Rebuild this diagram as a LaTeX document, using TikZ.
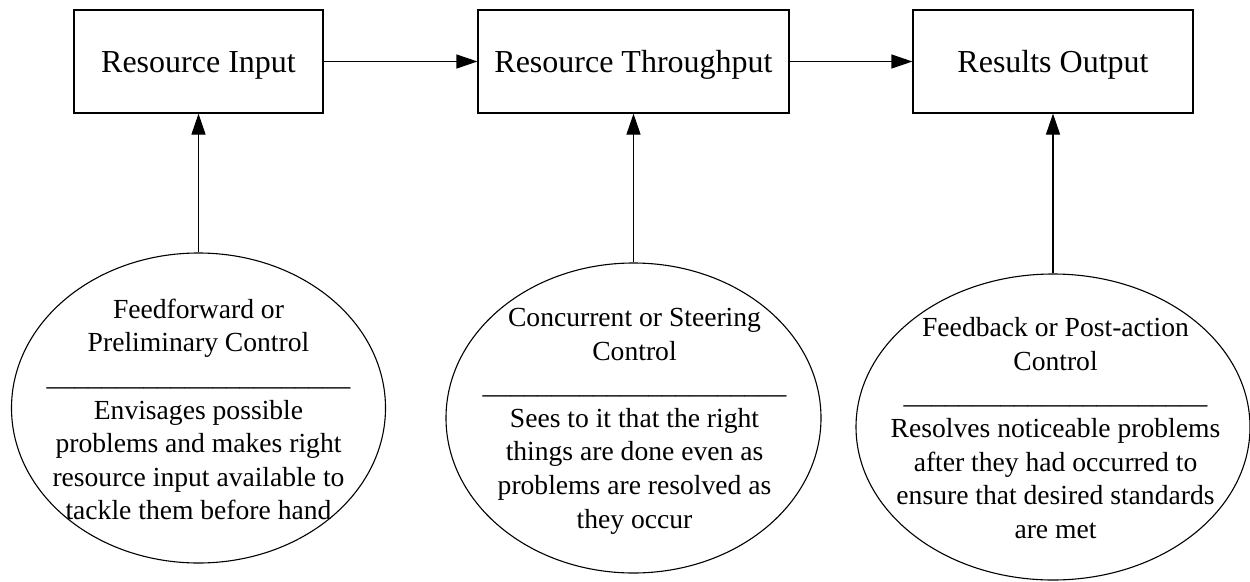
\documentclass[tikz,border=0pt]{standalone}
\usepackage{fontspec}
\setmainfont{Liberation Serif}
\usetikzlibrary{arrows.meta,shapes.geometric}
\begin{document}
\begin{tikzpicture}[x=1pt,y=-1pt,
  box/.style={draw,line width=1.2pt,inner sep=0pt,minimum height=103pt,
    font=\fontsize{32}{38}\selectfont,text height=21.2pt,text depth=0pt},
  ell/.style={draw,ellipse,line width=1.1pt,inner sep=0pt},
  etxt/.style={align=center,inner sep=0pt,font=\fontsize{27.6}{33.6}\selectfont},
  arr/.style={line width=1.2pt,-{Triangle[length=21pt,width=14pt]}}]
\useasboundingbox (0,0) rectangle (1250,581);
% boxes
\node[box,minimum width=249pt] (b1) at (198.5,61.5) {Resource Input};
\node[box,minimum width=311pt] (b2) at (633.5,61.5) {Resource Throughput};
\node[box,minimum width=280pt] (b3) at (1053,61.5) {Results Output};
% ellipses
\node[ell,minimum width=374pt,minimum height=310pt] (e1) at (198.5,408) {};
\node[ell,minimum width=375pt,minimum height=310pt] (e2) at (633.5,418) {};
\node[ell,minimum width=394pt,minimum height=306pt] (e3) at (1053,427) {};
% ellipse texts
\node[etxt] (t1) at (198.5,409.6) {Feedforward or\\Preliminary Control\\\_\_\_\_\_\_\_\_\_\_\_\_\_\_\_\_\_\_\_\_\_\_\\Envisages possible\\problems and makes right\\resource input available to\\tackle them before hand};
\node[etxt] (t2) at (634.5,421.2) {Concurrent or Steering\\Control\\\_\_\_\_\_\_\_\_\_\_\_\_\_\_\_\_\_\_\_\_\_\_\\Sees to it that the right\\things are done even as\\problems are resolved as\\they occur};
\node[etxt] (t3) at (1055.5,428.1) {Feedback or Post-action\\Control\\\_\_\_\_\_\_\_\_\_\_\_\_\_\_\_\_\_\_\_\_\_\_\\Resolves noticeable problems\\after they had occurred to\\ensure that desired standards\\are met};
% connectors
\draw[arr] (b1.east) -- (b2.west);
\draw[arr] (b2.east) -- (b3.west);
\draw[arr] (e1.north) -- (b1.south);
\draw[arr] (e2.north) -- (b2.south);
\draw[arr] (e3.north) -- (b3.south);
\end{tikzpicture}
\end{document}
